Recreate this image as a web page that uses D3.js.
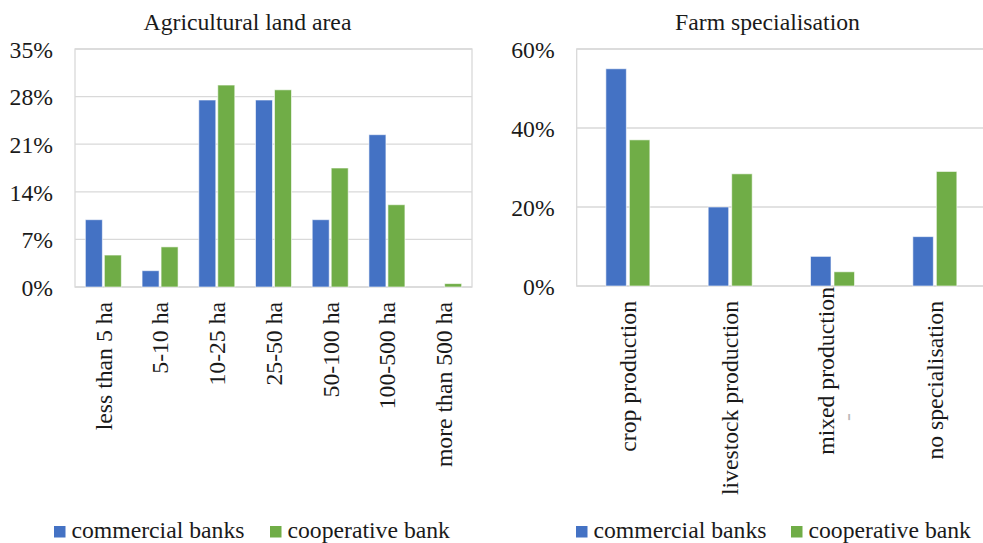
<!DOCTYPE html>
<html>
<head>
<meta charset="utf-8">
<script src="https://cdn.jsdelivr.net/npm/d3@7"></script>
<style>
  body { margin: 0; background: #fff; }
  svg text { font-family: "Liberation Serif", "Times New Roman", serif; }
</style>
</head>
<body>
<div id="chart"></div>
<script>
  var W = 983, H = 543, fs = 23.7;

  // data
  var series = ["commercial banks", "cooperative bank"];
  var colors = ["#4472C4", "#70AD47"];

  var landCats = ["less than 5 ha", "5-10 ha", "10-25 ha", "25-50 ha", "50-100 ha", "100-500 ha", "more than 500 ha"];
  var landCommercial = [9.9, 2.4, 27.5, 27.5, 9.9, 22.4, 0];
  var landCooperative = [4.7, 5.9, 29.7, 29.0, 17.5, 12.1, 0.5];
  var landTicks = [0, 7, 14, 21, 28, 35];

  var specCats = ["crop production", "livestock production", "mixed production\n-", "no specialisation"];
  var specCommercial = [55.0, 20.0, 7.5, 12.5];
  var specCooperative = [37.0, 28.4, 3.6, 29.0];
  var specTicks = [0, 20, 40, 60];

  var svg = d3.select("#chart").append("svg")
      .attr("width", W)
      .attr("height", H);

  function drawChart(o) {
    var g = svg.append("g");
    var x0 = d3.scaleBand().domain(o.cats).range([o.left, o.right]).padding(0);
    var x1 = d3.scaleBand().domain(series).range([0, x0.bandwidth()])
        .paddingInner(o.pin).paddingOuter(o.pout);
    var y = d3.scaleLinear().domain([0, o.ticks[o.ticks.length - 1]]).range([o.bottom, o.top]);

    // grid
    g.selectAll("line.grid").data(o.ticks).enter().append("line")
      .attr("x1", o.left).attr("x2", o.right)
      .attr("y1", function(d){ return y(d); })
      .attr("y2", function(d){ return y(d); })
      .attr("stroke", "#d9d9d9").attr("stroke-width", 1.3);
    // plot border
    g.append("rect")
      .attr("x", o.left).attr("y", o.top)
      .attr("width", o.right - o.left).attr("height", o.bottom - o.top)
      .attr("fill", "none").attr("stroke", "#d9d9d9").attr("stroke-width", 1.3);

    // y axis labels
    var yAxis = d3.axisLeft(y).tickValues(o.ticks).tickSize(0).tickPadding(22)
        .tickFormat(function(d){ return d + "%"; });
    var ya = g.append("g").attr("transform", "translate(" + o.left + ",0)").call(yAxis)
        .attr("font-family", null).attr("font-size", null);
    ya.select(".domain").remove();
    ya.selectAll("text")
      .attr("font-size", fs).attr("fill", "#1a1a1a").attr("dy", "0.35em");

    // bars
    var rows = o.cats.map(function(c, i){
      return {cat: c, vals: [o.a[i], o.b[i]]};
    });
    var grp = g.selectAll("g.cat").data(rows).enter().append("g")
      .attr("transform", function(d){ return "translate(" + x0(d.cat) + ",0)"; });
    grp.selectAll("rect").data(function(d){
        return d.vals.map(function(v, j){ return {s: series[j], v: v, c: colors[j]}; });
      })
      .enter().append("rect")
      .attr("x", function(d){ return x1(d.s); })
      .attr("width", x1.bandwidth())
      .attr("y", function(d){ return y(d.v); })
      .attr("height", function(d){ return y(0) - y(d.v); })
      .attr("fill", function(d){ return d.c; })
      .attr("stroke", "#fff").attr("stroke-opacity", 0.6).attr("stroke-width", 1);

    // rotated category labels
    o.cats.forEach(function(c){
      var cx = x0(c) + x0.bandwidth() / 2;
      var lines = c.split("\n");
      var t = g.append("text")
        .attr("font-size", fs).attr("fill", "#1a1a1a")
        .attr("text-anchor", "end");
      if (lines.length === 1) {
        t.attr("transform", "translate(" + cx + "," + (o.bottom + 15) + ") rotate(-90)")
         .attr("dy", "0.35em").text(c);
      } else {
        t.attr("transform", "translate(" + (cx - 6.5) + "," + (o.bottom + 1) + ") rotate(-90)")
         .attr("dy", "0.35em").text(lines[0]);
        g.append("text")
          .attr("font-size", fs).attr("fill", "#bbb").attr("text-anchor", "middle")
          .attr("transform", "translate(" + (cx + 14) + "," + (o.bottom + 131) + ") rotate(-90)")
          .attr("dy", "0.35em").text(lines[1]);
      }
    });

    // title
    g.append("text")
      .attr("x", o.titleX).attr("y", 30)
      .attr("text-anchor", "middle")
      .attr("font-size", fs).attr("fill", "#1a1a1a")
      .text(o.title);

    // legend
    series.forEach(function(s, j){
      var lx = o.legendX[j];
      g.append("rect")
        .attr("x", lx).attr("y", 526)
        .attr("width", 11.5).attr("height", 11.5)
        .attr("fill", colors[j]);
      g.append("text")
        .attr("x", lx + 17.5).attr("y", 538)
        .attr("font-size", fs).attr("fill", "#1a1a1a")
        .text(s);
    });
  }

  drawChart({
    cats: landCats, a: landCommercial, b: landCooperative, ticks: landTicks,
    left: 75, right: 472, top: 49, bottom: 287,
    pin: 0.105, pout: 0.545,
    title: "Agricultural land area", titleX: 247.5,
    legendX: [54, 270]
  });

  drawChart({
    cats: specCats, a: specCommercial, b: specCooperative, ticks: specTicks,
    left: 576.7, right: 986, top: 49, bottom: 286,
    pin: 0.128, pout: 1.24,
    title: "Farm specialisation", titleX: 767.5,
    legendX: [576, 791]
  });
</script>
</body>
</html>
